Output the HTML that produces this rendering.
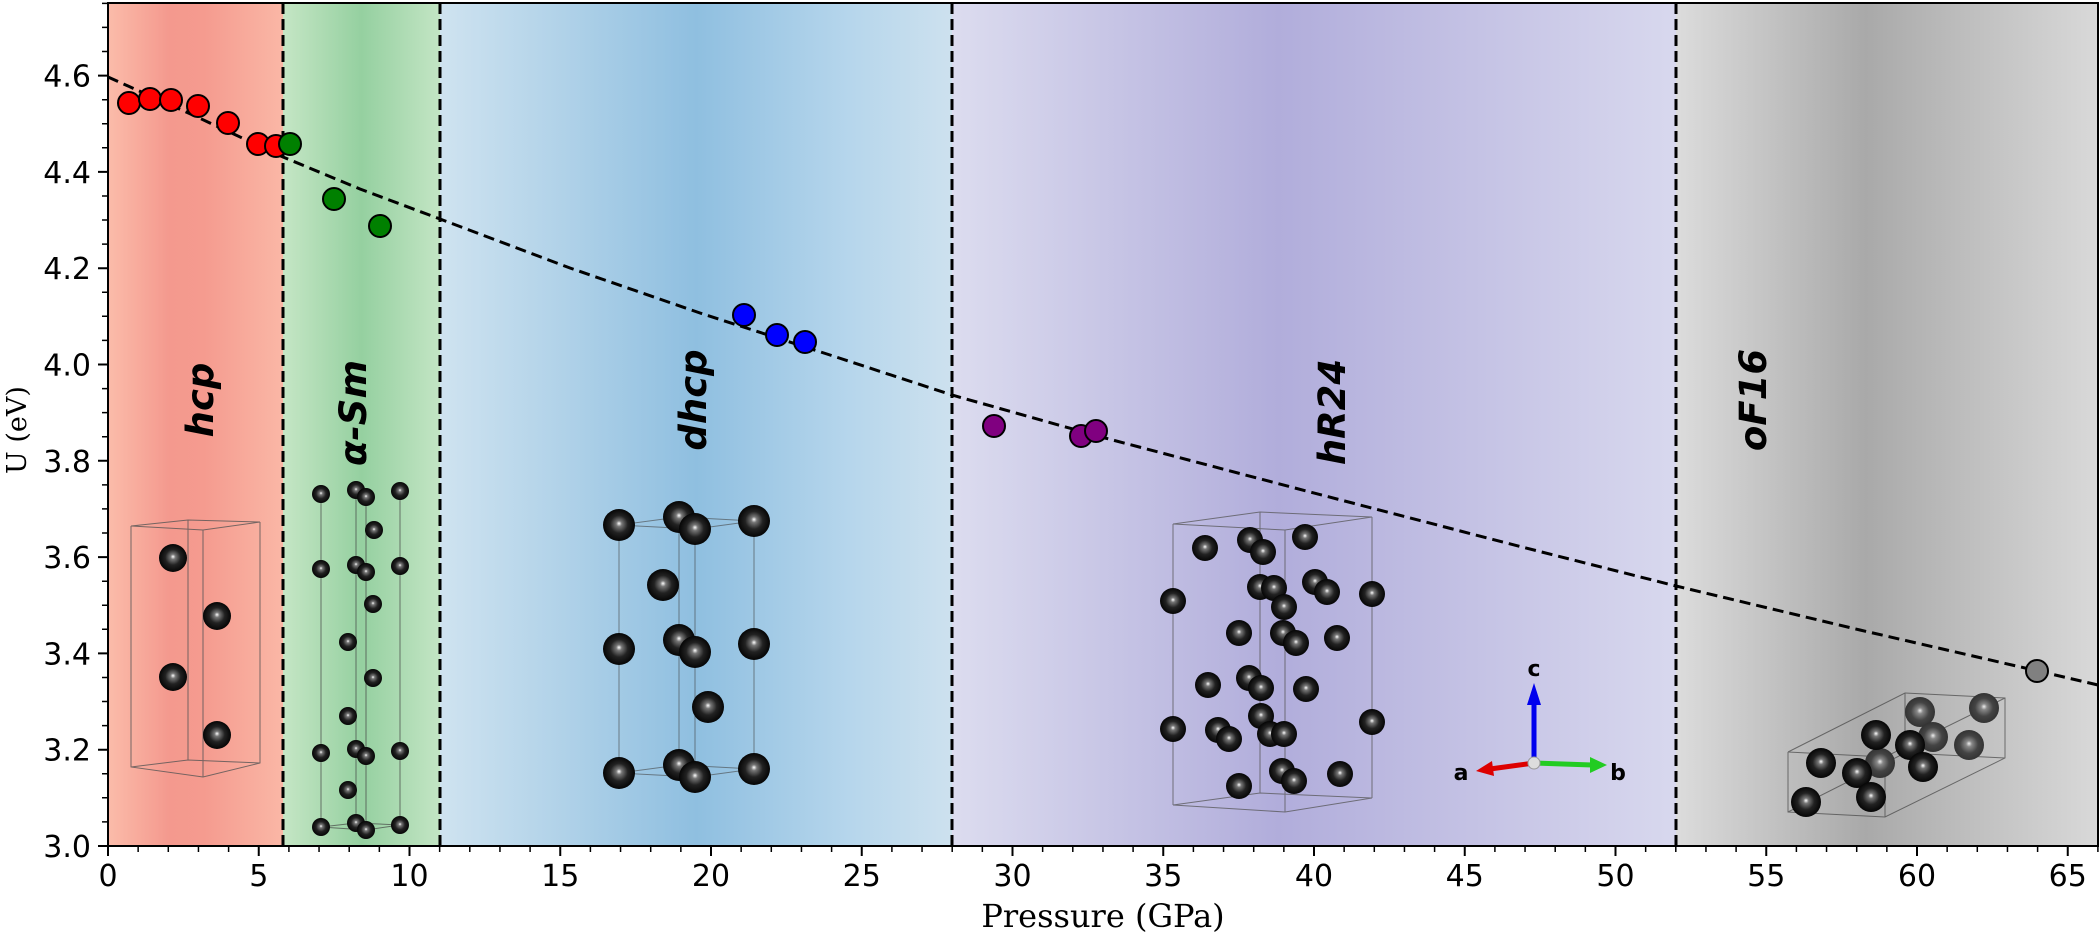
<!DOCTYPE html>
<html><head><meta charset="utf-8"><style>
html,body{margin:0;padding:0;background:#fff;}
svg{display:block;}
text{font-family:"DejaVu Sans","Liberation Sans",sans-serif;}
</style></head><body>
<svg width="2100" height="933" viewBox="0 0 2100 933" xmlns="http://www.w3.org/2000/svg">
<defs>
<linearGradient id="gr" x1="0" x2="1"><stop offset="0" stop-color="#fbbcaa"/><stop offset="0.35" stop-color="#f4998e"/><stop offset="0.55" stop-color="#f59b8f"/><stop offset="1" stop-color="#fab7a6"/></linearGradient>
<linearGradient id="gg" x1="0" x2="1"><stop offset="0" stop-color="#c5e6c5"/><stop offset="0.5" stop-color="#95d0a0"/><stop offset="1" stop-color="#c3e5c4"/></linearGradient>
<linearGradient id="gb" x1="0" x2="1"><stop offset="0" stop-color="#cfe3f0"/><stop offset="0.5" stop-color="#8fbfe0"/><stop offset="0.8" stop-color="#b6d6ec"/><stop offset="1" stop-color="#cde1ee"/></linearGradient>
<linearGradient id="gp" x1="0" x2="1"><stop offset="0" stop-color="#dcdcef"/><stop offset="0.45" stop-color="#b1addb"/><stop offset="1" stop-color="#d8d8ee"/></linearGradient>
<linearGradient id="gk" x1="0" x2="1"><stop offset="0" stop-color="#dcdcdc"/><stop offset="0.45" stop-color="#a9a9a9"/><stop offset="1" stop-color="#d9d9d9"/></linearGradient>
<radialGradient id="sph" cx="0.5" cy="0.5" r="0.5" fx="0.5" fy="0.45"><stop offset="0" stop-color="#fff"/><stop offset="0.18" stop-color="#777"/><stop offset="0.55" stop-color="#222"/><stop offset="1" stop-color="#050505"/></radialGradient>
<radialGradient id="sphg" cx="0.5" cy="0.5" r="0.5" fx="0.5" fy="0.45"><stop offset="0" stop-color="#eee"/><stop offset="0.2" stop-color="#888"/><stop offset="0.6" stop-color="#444"/><stop offset="1" stop-color="#333"/></radialGradient>
</defs>
<!-- regions -->
<rect x="108" y="3" width="175" height="843" fill="url(#gr)"/>
<rect x="283" y="3" width="157" height="843" fill="url(#gg)"/>
<rect x="440" y="3" width="512" height="843" fill="url(#gb)"/>
<rect x="952" y="3" width="724" height="843" fill="url(#gp)"/>
<rect x="1676" y="3" width="422" height="843" fill="url(#gk)"/>

<!-- hcp structure -->
<g stroke="#555" stroke-width="1" fill="none" opacity="0.8">
<polyline points="131,526 131,767 203,777 260,763 260,522"/>
<line x1="188" y1="520" x2="188" y2="760"/><line x1="203" y1="530" x2="203" y2="777"/>
<polyline points="131,526 188,520 260,522 203,530 131,526"/>
<polyline points="131,767 188,760 260,763"/>
</g>
<g fill="url(#sph)"><circle cx="173" cy="558" r="14"/><circle cx="217" cy="616" r="14"/><circle cx="173" cy="677" r="14"/><circle cx="217" cy="735" r="14"/></g>

<!-- alpha-Sm structure -->
<g stroke="#444" stroke-width="1" fill="none" opacity="0.7">
<line x1="321" y1="494" x2="321" y2="827"/><line x1="356" y1="490" x2="356" y2="823"/><line x1="366" y1="497" x2="366" y2="830"/><line x1="400" y1="491" x2="400" y2="825"/>
<polyline points="321,827 356,823 400,825 366,830 321,827"/>
</g>
<g fill="url(#sph)">
<circle cx="321" cy="494" r="9"/><circle cx="356" cy="490" r="9"/><circle cx="366" cy="497" r="9"/><circle cx="400" cy="491" r="9"/>
<circle cx="374" cy="530" r="9"/>
<circle cx="321" cy="569" r="9"/><circle cx="356" cy="565" r="9"/><circle cx="366" cy="572" r="9"/><circle cx="400" cy="566" r="9"/>
<circle cx="373" cy="604" r="9"/><circle cx="348" cy="642" r="9"/><circle cx="373" cy="678" r="9"/><circle cx="348" cy="716" r="9"/>
<circle cx="321" cy="753" r="9"/><circle cx="356" cy="749" r="9"/><circle cx="366" cy="756" r="9"/><circle cx="400" cy="751" r="9"/>
<circle cx="348" cy="790" r="9"/>
<circle cx="321" cy="827" r="9"/><circle cx="356" cy="823" r="9"/><circle cx="366" cy="830" r="9"/><circle cx="400" cy="825" r="9"/>
</g>

<!-- dhcp structure -->
<g stroke="#444" stroke-width="1" fill="none" opacity="0.6">
<line x1="619" y1="525" x2="619" y2="773"/><line x1="679" y1="517" x2="679" y2="765"/><line x1="754" y1="521" x2="754" y2="769"/><line x1="695" y1="529" x2="695" y2="777"/>
<polyline points="619,773 679,765 754,769 695,777 619,773"/>
<polyline points="619,525 679,517 754,521 695,529 619,525"/>
</g>
<g fill="url(#sph)">
<circle cx="619" cy="525" r="16"/><circle cx="679" cy="517" r="16"/><circle cx="754" cy="521" r="16"/><circle cx="695" cy="529" r="16"/>
<circle cx="663" cy="585" r="16"/>
<circle cx="619" cy="649" r="16"/><circle cx="679" cy="640" r="16"/><circle cx="754" cy="644" r="16"/><circle cx="695" cy="652" r="16"/>
<circle cx="708" cy="707" r="16"/>
<circle cx="619" cy="773" r="16"/><circle cx="679" cy="765" r="16"/><circle cx="754" cy="769" r="16"/><circle cx="695" cy="777" r="16"/>
</g>

<!-- hR24 structure -->
<g stroke="#555" stroke-width="1" fill="none" opacity="0.75">
<polyline points="1173,524 1260,512 1372,517 1285,530 1173,524"/>
<polyline points="1173,805 1260,793 1372,798 1285,812 1173,805"/>
<line x1="1173" y1="524" x2="1173" y2="805"/><line x1="1260" y1="512" x2="1260" y2="793"/><line x1="1372" y1="517" x2="1372" y2="798"/><line x1="1285" y1="530" x2="1285" y2="812"/>
</g>
<g fill="url(#sph)">
<circle cx="1205" cy="548" r="13"/><circle cx="1250" cy="540" r="13"/><circle cx="1263" cy="552" r="13"/><circle cx="1305" cy="537" r="13"/>
<circle cx="1173" cy="601" r="13"/><circle cx="1260" cy="587" r="13"/><circle cx="1274" cy="588" r="13"/><circle cx="1284" cy="607" r="13"/>
<circle cx="1315" cy="582" r="13"/><circle cx="1327" cy="592" r="13"/><circle cx="1372" cy="594" r="13"/>
<circle cx="1239" cy="633" r="13"/><circle cx="1283" cy="633" r="13"/><circle cx="1296" cy="643" r="13"/><circle cx="1337" cy="638" r="13"/>
<circle cx="1208" cy="685" r="13"/><circle cx="1249" cy="678" r="13"/><circle cx="1261" cy="688" r="13"/><circle cx="1306" cy="689" r="13"/>
<circle cx="1173" cy="729" r="13"/><circle cx="1218" cy="730" r="13"/><circle cx="1229" cy="739" r="13"/><circle cx="1261" cy="716" r="13"/>
<circle cx="1270" cy="734" r="13"/><circle cx="1284" cy="734" r="13"/><circle cx="1372" cy="722" r="13"/>
<circle cx="1239" cy="786" r="13"/><circle cx="1282" cy="771" r="13"/><circle cx="1294" cy="781" r="13"/><circle cx="1340" cy="774" r="13"/>
</g>

<!-- oF16 structure -->
<g stroke="#444" stroke-width="1" fill="none" opacity="0.7">
<polyline points="1788,752 1788,812 1885,817 2005,758 2005,698 1905,693 1788,752"/>
<polyline points="1788,752 1885,757 2005,698"/><line x1="1885" y1="757" x2="1885" y2="817"/>
<polyline points="1905,693 1905,753 2005,758"/><line x1="1905" y1="753" x2="1788" y2="812"/>
</g>
<g>
<circle cx="1920" cy="712" r="15" fill="url(#sphg)"/><circle cx="1984" cy="708" r="15" fill="url(#sphg)"/>
<circle cx="1933" cy="737" r="15" fill="url(#sphg)"/><circle cx="1969" cy="745" r="15" fill="url(#sphg)"/>
<circle cx="1880" cy="763" r="15" fill="url(#sphg)"/>
<circle cx="1876" cy="735" r="15" fill="url(#sph)"/><circle cx="1910" cy="745" r="15" fill="url(#sph)"/>
<circle cx="1821" cy="763" r="15" fill="url(#sph)"/><circle cx="1857" cy="773" r="15" fill="url(#sph)"/>
<circle cx="1923" cy="767" r="15" fill="url(#sph)"/><circle cx="1871" cy="797" r="15" fill="url(#sph)"/>
<circle cx="1806" cy="802" r="15" fill="url(#sph)"/>
</g>

<!-- axis triad -->
<g>
<line x1="1534" y1="763" x2="1534" y2="700" stroke="#0000ee" stroke-width="5"/>
<polygon points="1534,683 1527,705 1541,705" fill="#0000ee"/>
<line x1="1534" y1="763" x2="1490" y2="769" stroke="#dd0000" stroke-width="5"/>
<polygon points="1476,771 1492,761 1494,776" fill="#dd0000"/>
<line x1="1534" y1="763" x2="1592" y2="765" stroke="#22cc22" stroke-width="5"/>
<polygon points="1607,765 1590,757 1590,773" fill="#22cc22"/>
<circle cx="1534" cy="763" r="6" fill="#ddd" stroke="#999" stroke-width="1"/>
<text x="1534" y="676" font-size="22" font-weight="bold" text-anchor="middle" font-family="Liberation Sans,sans-serif">c</text>
<text x="1461" y="780" font-size="22" font-weight="bold" text-anchor="middle" font-family="Liberation Sans,sans-serif">a</text>
<text x="1618" y="780" font-size="22" font-weight="bold" text-anchor="middle" font-family="Liberation Sans,sans-serif">b</text>
</g>

<!-- phase boundaries -->
<g stroke="#000" stroke-width="3" stroke-dasharray="11,5">
<line x1="283" y1="3" x2="283" y2="846"/><line x1="440" y1="3" x2="440" y2="846"/>
<line x1="952" y1="3" x2="952" y2="846"/><line x1="1676" y1="3" x2="1676" y2="846"/>
</g>

<!-- phase labels -->
<g font-size="37" font-weight="bold" font-style="italic" text-anchor="middle">
<text transform="translate(213,400) rotate(-90)">hcp</text>
<text transform="translate(366,413) rotate(-90)">α-Sm</text>
<text transform="translate(706,400) rotate(-90)">dhcp</text>
<text transform="translate(1345,412) rotate(-90)">hR24</text>
<text transform="translate(1766,400) rotate(-90)">oF16</text>
</g>

<!-- fit line -->
<polyline points="108,77 195,116 283,157 360,189 440,219 570,268 700,313 830,355 952,395 1030,417 1105,438 1310,492 1522,547 1676,586 1860,630 2038,671 2098,685" fill="none" stroke="#000" stroke-width="3" stroke-dasharray="11,6"/>

<!-- data points -->
<g stroke="#000" stroke-width="2">
<g fill="#ff0000"><circle cx="129" cy="103" r="11"/><circle cx="150" cy="99" r="11"/><circle cx="171" cy="100" r="11"/><circle cx="198" cy="106" r="11"/><circle cx="228" cy="123" r="11"/><circle cx="258" cy="144" r="11"/><circle cx="276" cy="146" r="11"/></g>
<g fill="#008000"><circle cx="290" cy="144" r="11"/><circle cx="334" cy="199" r="11"/><circle cx="380" cy="226" r="11"/></g>
<g fill="#0000ff"><circle cx="744" cy="315" r="11"/><circle cx="777" cy="335" r="11"/><circle cx="805" cy="342" r="11"/></g>
<g fill="#800080"><circle cx="994" cy="426" r="11"/><circle cx="1081" cy="436" r="11"/><circle cx="1096" cy="431" r="11"/></g>
<circle cx="2037" cy="671" r="11" fill="#808080"/>
</g>

<!-- frame -->
<rect x="108" y="3" width="1990" height="843" fill="none" stroke="#000" stroke-width="2"/>

<!-- x ticks -->
<g stroke="#000" stroke-width="2">
<path d="M108,846v10M258.75,846v10M409.5,846v10M560.25,846v10M711,846v10M861.75,846v10M1012.5,846v10M1163.25,846v10M1314,846v10M1464.75,846v10M1615.5,846v10M1766.25,846v10M1917,846v10M2067.75,846v10"/>
</g>
<g stroke="#000" stroke-width="1.5">
<path d="M138.15,846v6M168.3,846v6M198.45,846v6M228.6,846v6M288.9,846v6M319.05,846v6M349.2,846v6M379.35,846v6M439.65,846v6M469.8,846v6M499.95,846v6M530.1,846v6M590.4,846v6M620.55,846v6M650.7,846v6M680.85,846v6M741.15,846v6M771.3,846v6M801.45,846v6M831.6,846v6M891.9,846v6M922.05,846v6M952.2,846v6M982.35,846v6M1042.65,846v6M1072.8,846v6M1102.95,846v6M1133.1,846v6M1193.4,846v6M1223.55,846v6M1253.7,846v6M1283.85,846v6M1344.15,846v6M1374.3,846v6M1404.45,846v6M1434.6,846v6M1494.9,846v6M1525.05,846v6M1555.2,846v6M1585.35,846v6M1645.65,846v6M1675.8,846v6M1705.95,846v6M1736.1,846v6M1796.4,846v6M1826.55,846v6M1856.7,846v6M1886.85,846v6M1947.15,846v6M1977.3,846v6M2007.45,846v6M2037.6,846v6M2097.9,846v6"/>
</g>
<g font-size="30" text-anchor="middle">
<text x="108" y="886">0</text><text x="258.75" y="886">5</text><text x="409.5" y="886">10</text><text x="560.25" y="886">15</text><text x="711" y="886">20</text><text x="861.75" y="886">25</text><text x="1012.5" y="886">30</text><text x="1163.25" y="886">35</text><text x="1314" y="886">40</text><text x="1464.75" y="886">45</text><text x="1615.5" y="886">50</text><text x="1766.25" y="886">55</text><text x="1917" y="886">60</text><text x="2067.75" y="886">65</text>
</g>

<!-- y ticks -->
<g stroke="#000" stroke-width="2">
<path d="M108,846h-10M108,749.7h-10M108,653.4h-10M108,557.1h-10M108,460.8h-10M108,364.5h-10M108,268.2h-10M108,171.9h-10M108,75.6h-10"/>
</g>
<g stroke="#000" stroke-width="1.5">
<path d="M108,821.9h-6M108,797.8h-6M108,773.8h-6M108,725.6h-6M108,701.5h-6M108,677.5h-6M108,629.3h-6M108,605.2h-6M108,581.2h-6M108,533h-6M108,508.9h-6M108,484.9h-6M108,436.7h-6M108,412.6h-6M108,388.6h-6M108,340.4h-6M108,316.3h-6M108,292.3h-6M108,244.1h-6M108,220h-6M108,196h-6M108,147.8h-6M108,123.7h-6M108,99.7h-6M108,51.5h-6M108,27.4h-6M108,3.4h-6"/>
</g>
<g font-size="30" text-anchor="end">
<text x="91" y="857">3.0</text><text x="91" y="760.7">3.2</text><text x="91" y="664.4">3.4</text><text x="91" y="568.1">3.6</text><text x="91" y="471.8">3.8</text><text x="91" y="375.5">4.0</text><text x="91" y="279.2">4.2</text><text x="91" y="182.9">4.4</text><text x="91" y="86.6">4.6</text>
</g>

<!-- axis labels -->
<text x="1103" y="927" font-size="32" text-anchor="middle" style="font-family:'DejaVu Serif','Liberation Serif',serif">Pressure (GPa)</text>
<text transform="translate(26,430) rotate(-90)" font-size="27" text-anchor="middle" style="font-family:'DejaVu Serif','Liberation Serif',serif">U (eV)</text>
</svg>
</body></html>
